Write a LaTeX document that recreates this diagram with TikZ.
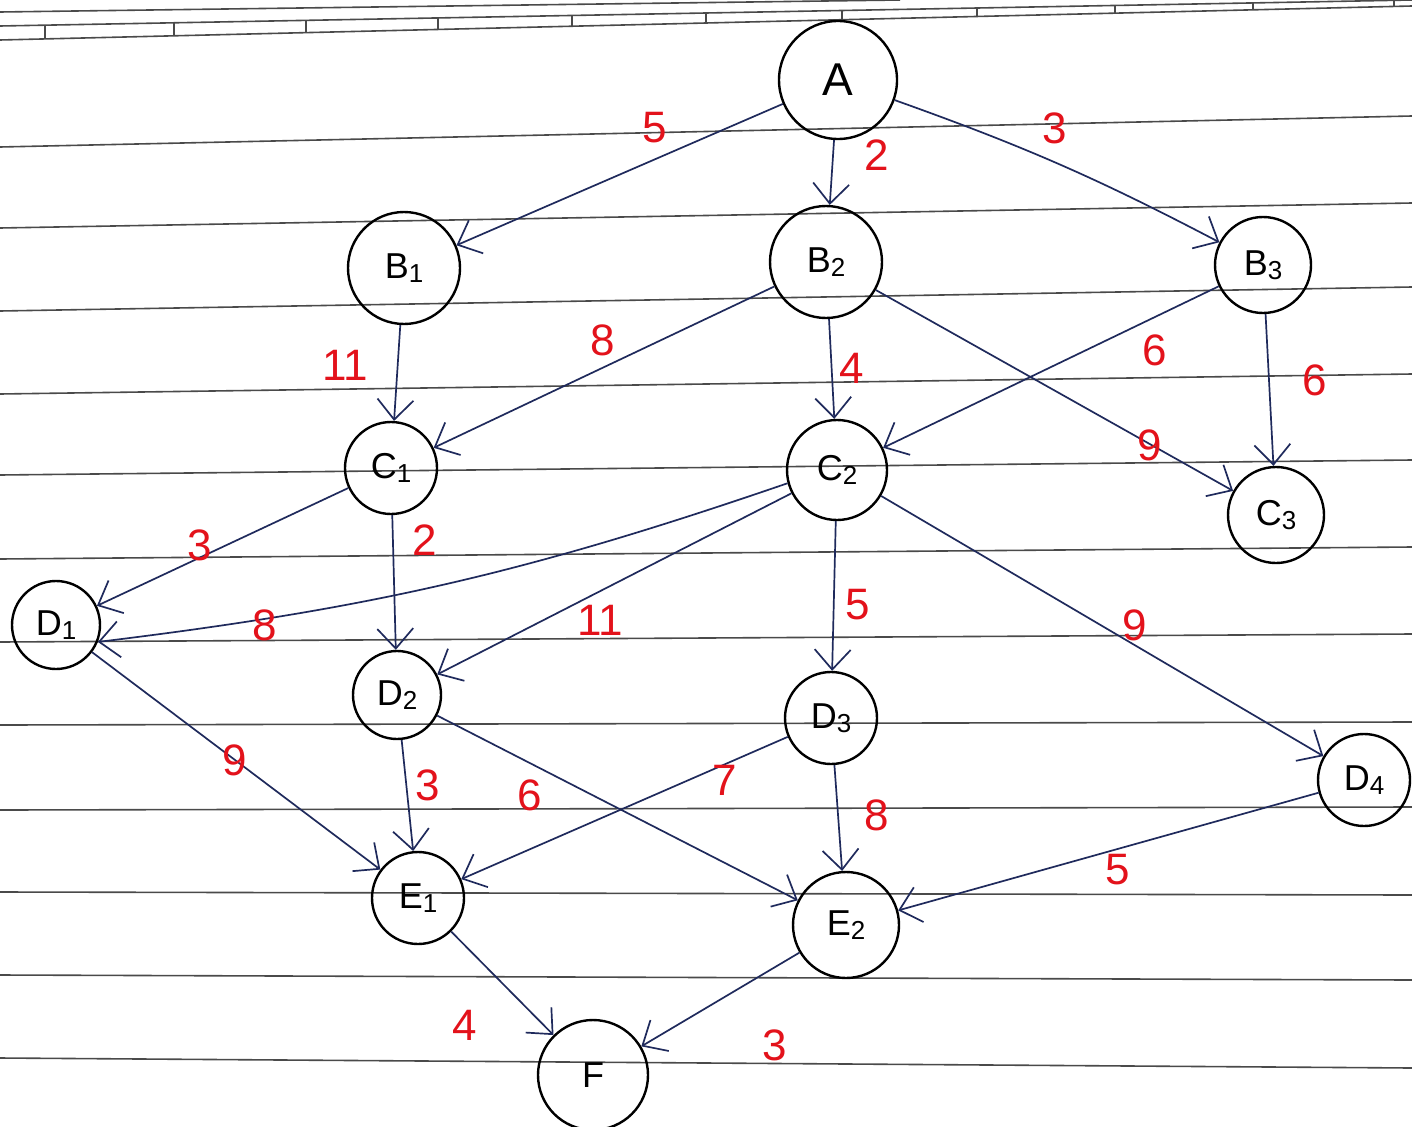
\documentclass[tikz,border=0pt]{standalone}
\usepackage{fontspec}
\setmainfont{Liberation Sans}
\usetikzlibrary{arrows.meta}
\definecolor{ink}{HTML}{1F2A5C}
\definecolor{redink}{HTML}{E3121B}
\definecolor{ruleink}{HTML}{4A4A4A}
\newcommand{\lowd}[1]{\raisebox{-4pt}{\fontsize{26}{26}\selectfont #1}}
\begin{document}
\begin{tikzpicture}[x=1pt,y=-1pt,
  vtx/.style={circle,draw=black,line width=2.4pt,inner sep=0pt,font=\fontsize{36}{36}\selectfont},
  edg/.style={draw=ink,line width=1.7pt,-{Straight Barb[length=20pt,width=36pt]}},
  wt/.style={text=redink,font=\fontsize{44}{44}\selectfont},
  ruleline/.style={draw=ruleink,line width=1.6pt},
  tick/.style={draw=ruleink,line width=1.2pt}]
\useasboundingbox (0,0) rectangle (1412,1126);
\fill[white] (0,0) rectangle (1412,1126);
% ruled paper
\foreach \l/\r in {147/116,228/203,311/287,394/374,475/460,559/547,642/634,725/722,810/807,892/895,975/980,1058/1068}
  \draw[ruleline] (0,\l) -- (1412,\r);
% torn pages at top
\draw[ruleline] (0,12) -- (900,0);
\draw[ruleline] (0,26) -- (1412,0);
\draw[ruleline] (0,40) -- (1412,6);
\foreach \x in {45,174,306,438,572,706,842,977,1115,1253,1394}
  \draw[tick] (\x,{40-\x/1412*34}) -- (\x,{26-\x/1412*26});
% vertices
\node[vtx,minimum size=118pt,font=\fontsize{46}{46}\selectfont] (A) at (838,80) {A};
\node[vtx,minimum size=112pt] (B1) at (404,268) {B\lowd{1}};
\node[vtx,minimum size=112pt] (B2) at (826,262) {B\lowd{2}};
\node[vtx,minimum size=96pt] (B3) at (1263,265) {B\lowd{3}};
\node[vtx,minimum size=92pt] (C1) at (391,468) {C\lowd{1}};
\node[vtx,minimum size=100pt] (C2) at (837,470) {C\lowd{2}};
\node[vtx,minimum size=96pt] (C3) at (1276,515) {C\lowd{3}};
\node[vtx,minimum size=88pt] (D1) at (56,625) {D\lowd{1}};
\node[vtx,minimum size=88pt] (D2) at (397,695) {D\lowd{2}};
\node[vtx,minimum size=92pt] (D3) at (831,718) {D\lowd{3}};
\node[vtx,minimum size=92pt] (D4) at (1364,780) {D\lowd{4}};
\node[vtx,minimum size=92pt] (E1) at (418,898) {E\lowd{1}};
\node[vtx,minimum size=106pt] (E2) at (846,925) {E\lowd{2}};
\node[vtx,minimum size=110pt] (F) at (593,1075) {F};
% edges
\draw[edg] (A) -- (B1);
\draw[edg] (A) -- (B2);
\draw[edg] (A) to[bend left=4] (B3);
\draw[edg] (B1) -- (C1);
\draw[edg] (B2) -- (C1);
\draw[edg] (B2) -- (C2);
\draw[edg] (B2) -- (C3);
\draw[edg] (B3) -- (C2);
\draw[edg] (B3) -- (C3);
\draw[edg] (C1) -- (D1);
\draw[edg] (C1) -- (D2);
\draw[edg] (C2.195) to[bend left=6] (D1.-22);
\draw[edg] (C2) -- (D2);
\draw[edg] (C2) -- (D3);
\draw[edg] (C2) -- (D4);
\draw[edg] (D1) -- (E1);
\draw[edg] (D2) -- (E1);
\draw[edg] (D2) -- (E2);
\draw[edg] (D3) -- (E1);
\draw[edg] (D3) -- (E2);
\draw[edg] (D4) -- (E2);
\draw[edg] (E1) -- (F);
\draw[edg] (E2) -- (F);
% weights
\node[wt] (w1) at (655,128) {5};
\node[wt] (w2) at (877,155) {2};
\node[wt] (w3) at (1055,128) {3};
\node[wt] (w4) at (345,365) {11};
\node[wt] (w5) at (603,340) {8};
\node[wt] (w6) at (852,368) {4};
\node[wt] (w7) at (1150,445) {9};
\node[wt] (w8) at (1155,350) {6};
\node[wt] (w9) at (1315,380) {6};
\node[wt] (w10) at (200,545) {3};
\node[wt] (w11) at (425,540) {2};
\node[wt] (w12) at (265,625) {8};
\node[wt] (w13) at (600,620) {11};
\node[wt] (w14) at (858,605) {5};
\node[wt] (w15) at (1135,625) {9};
\node[wt] (w16) at (235,760) {9};
\node[wt] (w17) at (428,785) {3};
\node[wt] (w18) at (530,795) {6};
\node[wt] (w19) at (725,780) {7};
\node[wt] (w20) at (877,815) {8};
\node[wt] (w21) at (1118,870) {5};
\node[wt] (w22) at (465,1025) {4};
\node[wt] (w23) at (775,1045) {3};
\end{tikzpicture}
\end{document}
